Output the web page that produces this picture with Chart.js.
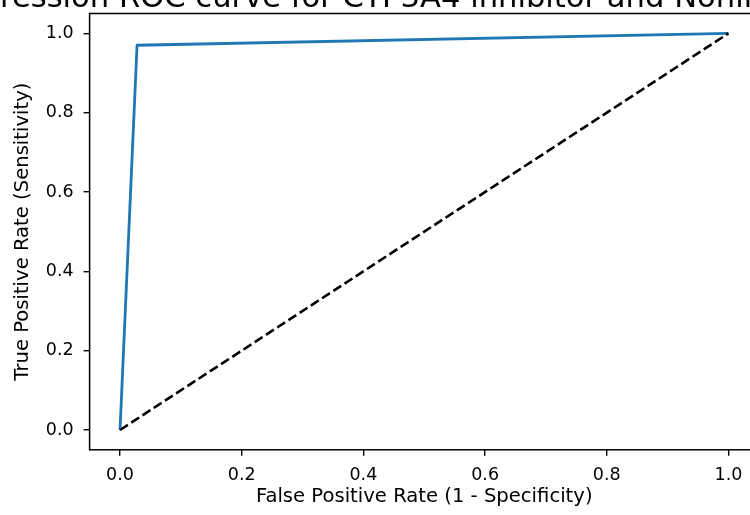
<!DOCTYPE html>
<html>
<head>
<meta charset="utf-8">
<script src="https://cdn.jsdelivr.net/npm/chart.js@4/dist/chart.umd.min.js"></script>
<style>
  html, body { margin: 0; padding: 0; background: #fff; }
  body { width: 750px; height: 515px; overflow: hidden; position: relative; }
  #roc { position: absolute; left: 0; top: -40px; }
</style>
</head>
<body>
<canvas id="roc" width="800" height="555"></canvas>
<script>
// ROC curve of the classifier plus the chance diagonal.
const fpr = [0, 0.028, 1];
const tpr = [0, 0.97, 1];
const chanceFpr = [0, 1];
const chanceTpr = [0, 1];
const xTicks = [0, 0.2, 0.4, 0.6, 0.8, 1.0];
const yTicks = [0, 0.2, 0.4, 0.6, 0.8, 1.0];
const TITLE = "Logistic Regression ROC curve for CYP3A4 inhibitor and Noninhibitor";
const TITLE_CUT = "Logistic Reg"; // part of the title that runs off the left edge
const X_LABEL = "False Positive Rate (1 - Specificity)";
const Y_LABEL = "True Positive Rate (Sensitivity)";

const FONT = "'DejaVu Sans', sans-serif";
const INK = "#000";

const toPoints = (xs, ys) => xs.map((x, i) => ({ x, y: ys[i] }));

// Full box around the plot area plus the (cropped) title above it.
const frame = {
  id: "frame",
  afterDraw(chart) {
    const { ctx, chartArea: a } = chart;
    ctx.save();
    ctx.strokeStyle = INK;
    ctx.lineWidth = 1.5;
    ctx.strokeRect(a.left, a.top, a.right - a.left, a.bottom - a.top);
    ctx.fillStyle = INK;
    ctx.font = "30.6px " + FONT;
    ctx.textAlign = "left";
    ctx.textBaseline = "alphabetic";
    ctx.fillText(TITLE, -ctx.measureText(TITLE_CUT).width, a.top - 6.5);
    ctx.restore();
  },
};

const tickStyle = {
  font: { family: FONT, size: 17.5 },
  color: INK,
  callback: (v) => Number(v).toFixed(1),
};
const labelFont = { family: FONT, size: 19.6 };
const gridStyle = {
  drawOnChartArea: false,
  drawTicks: true,
  tickLength: 6,
  color: INK,
  lineWidth: 1.4,
};

new Chart(document.getElementById("roc"), {
  type: "line",
  data: {
    datasets: [
      {
        data: toPoints(chanceFpr, chanceTpr),
        borderColor: "#000",
        borderWidth: 2.6,
        borderDash: [9.4, 4],
        borderCapStyle: "butt",
        pointRadius: 0,
      },
      {
        data: toPoints(fpr, tpr),
        borderColor: "#1f77b4",
        borderWidth: 2.8,
        borderJoinStyle: "round",
        pointRadius: 0,
      },
    ],
  },
  options: {
    responsive: false,
    devicePixelRatio: 1,
    animation: false,
    layout: { padding: { top: 53.5, left: 0, right: 41.1, bottom: 0 } },
    plugins: { legend: { display: false }, tooltip: { enabled: false } },
    scales: {
      x: {
        type: "linear",
        min: -0.05,
        max: 1.05,
        border: { display: false },
        grid: gridStyle,
        ticks: { ...tickStyle, padding: 9.5, maxRotation: 0 },
        afterBuildTicks: (s) => { s.ticks = xTicks.map((value) => ({ value })); },
        afterFit: (s) => { s.height = 65.2; },
        title: {
          display: true,
          text: X_LABEL,
          color: INK,
          font: labelFont,
          padding: { top: 0, bottom: 6.2 },
        },
      },
      y: {
        type: "linear",
        min: -0.05,
        max: 1.05,
        border: { display: false },
        grid: gridStyle,
        ticks: { ...tickStyle, padding: 10 },
        afterBuildTicks: (s) => { s.ticks = yTicks.map((value) => ({ value })); },
        afterFit: (s) => { s.width = 89.6; },
        title: {
          display: true,
          text: Y_LABEL,
          color: INK,
          font: labelFont,
          padding: { top: 10.7, bottom: 0 },
        },
      },
    },
  },
  plugins: [frame],
});
</script>
</body>
</html>
